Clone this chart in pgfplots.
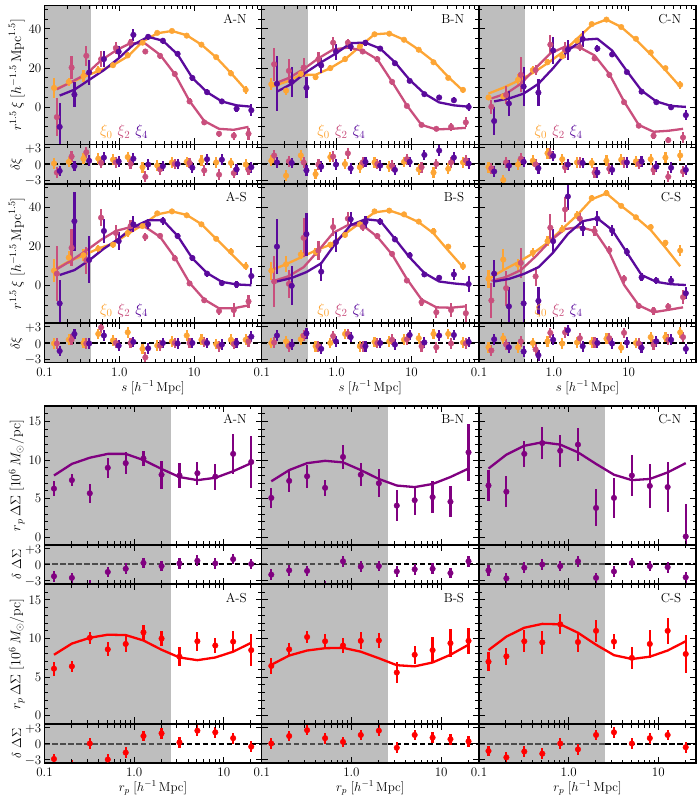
\documentclass[border=0pt]{standalone}
\usepackage{fix-cm}
\usepackage{pgfplots}
\usepackage{pgfplotstable}
\pgfplotsset{compat=1.18}
\definecolor{cO}{HTML}{FDA535}
\definecolor{cM}{HTML}{C94F7D}
\definecolor{cP}{HTML}{5A0A9C}
\definecolor{cL}{HTML}{800080}
\definecolor{cR}{HTML}{FF0000}
\definecolor{cB}{HTML}{BEBEBE}
% s y0 e0 l0 r0 y2 e2 l2 r2 y4 e4 l4 r4
\pgfplotstableread{
s y0 e0 l0 r0 y2 e2 l2 r2 y4 e4 l4 r4
0.134 9.9 5 9 0.1 -5 9.5 9.2 -1.6 -10 12 6 -1.3
0.211 13 2 12.2 0.4 20.3 6 13 1.4 6.5 6.5 9 -0.4
0.332 16 3 15.5 1 26.3 5 17 2.2 17.8 6.5 14 0.6
0.523 19 2 18.5 1 24.6 4 24 0.2 24.6 4 19 1.2
0.823 21.5 1.5 21.5 0.8 30.3 3 29 0.3 28.4 3 25 0.5
1.295 26.5 1.5 26 1.3 33 2 32.8 0 37 3 32 1
2.04 33 1 33.5 -0.6 28.5 1.5 32.5 -2.4 36 1.5 36 -0.1
3.21 38 1 37.8 -0.3 26.3 1.5 26.8 -1 34 1.5 34 -0.4
5.05 39 1 39 0.3 17 1.5 17 0 27.3 1.5 27 0
7.95 36.6 1 36.8 0.4 3 1.5 3.2 0.2 15 1.5 15 -0.7
12.5 32 1 32 0.6 -7.7 1 -7 -1.2 7.7 1.5 7.7 0.9
19.7 25.6 1 25.5 0.3 -13.5 1.5 -11 -2 3 1 3 0.8
31 17.3 1.5 17.5 0.2 -14.5 2 -11.5 -1.7 -0.7 1.5 1 -1
48.8 8.9 2 9 -0.1 -13.5 3 -10 -1.1 -1.5 3 0.3 -0.6
}\tabAN
\pgfplotstableread{
s y0 e0 l0 r0 y2 e2 l2 r2 y4 e4 l4 r4
0.134 11.8 3 10.5 0.6 22 8.5 12 1.6 12 14 8 0.3
0.211 8.5 2 13 -2.2 18.6 6 15 0.5 13 7.5 12 0.2
0.332 17 2 16.5 1.6 20.3 5 19.5 0.3 10 5.5 18 -1.2
0.523 15.4 1.5 16.6 -1.9 24.6 3.5 25 -0.1 21.4 4 23 -0.5
0.823 20 1.5 20 1.3 33 3 29.5 1.4 28.4 4 27.5 -0.1
1.295 24.6 1.5 24.5 0 33 2 30.5 2 31 2 32.8 -0.8
2.04 31 1 31 -0.6 28.5 1.5 29 0.3 33 1.5 33 0.4
3.21 37.3 1 37.3 0.3 24.6 1.5 24.5 0 30 1 30 -0.3
5.05 37.6 1 37.8 -0.5 13 1.5 13 -0.3 22.5 1 23 -1.1
7.95 34.5 1 34.5 0.4 0.7 1 1 0.9 13.5 1 14 0.4
12.5 29.4 1 29.4 -1 -9 1 -9 -0.6 6.7 1 7 1.7
19.7 23 1 23.5 -1.6 -11 1 -11.3 0 5 1 2.5 2.5
31 15 1 15.5 -0.9 -10 2 -11 0.3 3.6 1.5 1 1.2
48.8 8.9 1.5 8.5 0.3 -7.7 2.5 -10.5 0.7 0.2 2 0.3 0.1
}\tabBN
\pgfplotstableread{
s y0 e0 l0 r0 y2 e2 l2 r2 y4 e4 l4 r4
0.134 5 1.5 7 -0.6 0.3 3.5 4.5 -0.8 -7 7 3 -1.4
0.211 5.5 2 10 -3 6.3 4.5 7 0.3 1.9 6.5 4.5 -0.3
0.332 14 3 13.5 -0.1 16.6 9 12 1 10.6 10 7 0.4
0.523 19 2 17.5 0.6 19 2.5 20 -0.1 7.5 7 12 -0.8
0.823 23 1.5 22.5 2 32 5 27.5 1.9 29 7 20 1.5
1.295 26 1.5 28 0.9 29.4 4 31 -0.6 29.4 5 29 -0.1
2.04 34 1.2 35 0.3 30.8 2 30.5 0.3 34.9 4 34.5 0.2
3.21 42.5 1 42 0.2 25 1.5 26.5 -1.6 30 2 35 -1.6
5.05 44.8 1 44.8 0.6 16.6 1.5 17 -0.9 27 1.5 29 -1.1
7.95 41 1 41 0.8 2.6 1.5 3 0.3 18 1 18.5 0.3
12.5 35 1 34.5 0.5 -9.4 1 -9 0 8 1 8.5 0.5
19.7 28 1 27 0.9 -14.5 1.5 -12.5 -1.1 2.6 1 3 -0.5
31 20 1.2 19 1.2 -16.8 1.5 -12 -2.4 0 1.5 0.7 -0.7
48.8 11.5 2 10.5 1.6 -15.4 3 -11 -1.4 -4 2.5 0.2 -1.1
}\tabCN
\pgfplotstableread{
s y0 e0 l0 r0 y2 e2 l2 r2 y4 e4 l4 r4
0.134 7.7 6 8 -0.1 6.2 14 8.5 -0.1 -9 12 5.5 -1.5
0.211 14.4 3.5 12.5 0.6 19.4 9.5 13 0.6 33 15 8 1.7
0.332 15.6 3 15.5 0 13 7 18 -0.1 13.2 12 13 -0.1
0.523 19 2 19 1.7 34.8 4.5 23.5 2.9 28 6 19 1.4
0.823 21 1.5 21.5 0.5 27 4 28 0 22.8 4.5 24 -0.5
1.295 27 2 26.5 2 30.5 3 30 0 31.4 4 30 0.2
2.04 30.5 1 31 -1.1 25 2 30 -2.7 31.4 2.5 33.5 -1
3.21 37 1 36.5 -0.5 25.5 1.5 25 -0.5 33.3 2 33.5 0
5.05 38 1 38 0.3 14 1.5 14.5 0 25.4 1.5 25.5 -0.1
7.95 36 1 36.2 1.4 1.2 1.5 1.5 0 14.2 1.5 14 0
12.5 31.4 1 31.5 0.6 -7.4 1.2 -7 0.2 6.2 1.5 6.5 0
19.7 24 1.2 24 -0.2 -12.9 2 -11.5 -0.6 1.4 1.5 2 -0.3
31 17.5 2 16.5 0.6 -12.4 3.5 -11.5 -0.2 0.7 2 0.7 0
48.8 10 2 9 0.6 -8 3.5 -10 0.3 5 4 0.3 1.2
}\tabAS
\pgfplotstableread{
s y0 e0 l0 r0 y2 e2 l2 r2 y4 e4 l4 r4
0.134 7.7 4.5 8 0 2.2 13 2.5 0.1 20 14 2.2 1.4
0.211 11 4 11 0.3 1 7 5 -0.6 0 10 4 -0.3
0.332 16 2.5 14.5 0.7 24.5 10 9.5 1.4 26.4 11 7 1.8
0.523 17.3 2 18 -0.6 18 5 18 -0.6 7.2 5 11.5 -1.1
0.823 21 1.5 21 0 30 4.5 27 1.3 22.3 5 22 0.3
1.295 26 1.5 26.5 1.7 34.3 3.5 31 1.7 34 3.5 31 1.1
2.04 31.4 1 32 -0.6 30 2 31 -0.6 32.6 3 34 -0.6
3.21 38 1 37.5 0.2 25.4 1.5 25 0 32.8 2 33.2 0
5.05 38.4 1 38.5 0.3 16.3 1.5 16 0.6 23.7 1.5 24 -0.3
7.95 36.5 1 36 0.6 2.7 1.5 3.5 0.7 15.6 1.5 14.5 1.5
12.5 32.8 1 32.5 0.9 -8.4 2 -7 -0.6 5.8 1.5 6.5 0.1
19.7 27.8 1.5 26.8 1.7 -13.5 3 -11 -0.8 4.1 1.5 2.2 1.4
31 20 1.5 18 1.7 -12.4 3.5 -11.2 -0.1 5.8 3 1.2 1.5
48.8 10 2 9.5 0.1 -14 4.5 -10.5 -0.1 0.9 4 0.5 0.2
}\tabBS
\pgfplotstableread{
s y0 e0 l0 r0 y2 e2 l2 r2 y4 e4 l4 r4
0.134 3.6 4.7 3.5 -0.8 -7.5 9 2.5 -1.4 6.2 7 2.2 0.7
0.211 13.4 5.5 8 0.9 -1.2 9 4.5 -0.3 -10.5 10 3.5 -0.8
0.332 10.8 3 12 -0.8 11.7 7.5 8 0.3 -9 11 6 -1.6
0.523 17 2.5 16.5 0 4.8 5 15 -1.2 -7.7 7 9.5 -2.3
0.823 22.8 2.5 22 0.3 29.7 7 23 1.9 22.8 6 17 0.6
1.295 28.8 2 29 -0.1 39 6.5 29 2 45.6 7 26.5 2.4
2.04 36 2 36 0.1 34.3 3 30 0.9 29.3 4 33 -0.6
3.21 44.8 1.5 44.2 0.1 28 2.5 28 0.1 34.3 4 34.5 0
5.05 47.3 1.5 47.2 0.8 18.2 2 17 0.9 28.3 3 28.5 -0.1
7.95 40.8 1 40.8 -0.9 3.6 2 0.5 1.9 17.3 2 17 0.1
12.5 35 1 35 0 -10.3 1.5 -10 -0.1 4.3 2 5.5 -0.9
19.7 30 1.5 28.5 1.1 -12.7 2 -13.5 -0.3 2.7 2 2 0.3
31 22 1.5 19.5 1.1 -10.6 2 -12.3 0.6 2.7 2.5 0.8 0.6
48.8 18 3 10 2 -5.8 3.5 -11 1.1 -3.8 3 0.4 -1.1
}\tabCS
% r y e l d
\pgfplotstableread{
r y e l d
0.1276 6.3 0.95 8 -2.2
0.202 7.4 0.8 9.5 -2.5
0.32 5.7 1.2 10.3 -3.9
0.508 9 1.3 10.8 -1.4
0.805 9.6 1.4 10.8 -0.8
1.27 10.2 1 10 0.3
2.02 8.1 1.8 8.85 -0.3
3.2 8 1.6 7.8 0.2
5.07 8.3 1.5 7.4 0.7
8.03 7.85 1.7 7.7 0.2
12.7 10.8 2.6 8.55 1
20.2 9.75 3.4 9.6 0.1
}\lenAN
\pgfplotstableread{
r y e l d
0.1276 5.1 1.3 7.25 -1.9
0.202 7.3 1.4 8.7 -1.1
0.32 7.9 1.5 9.6 -1.2
0.508 6.4 1 9.9 -4
0.805 10.4 1.5 9.7 0.6
1.27 8.1 1.5 8.7 -0.4
2.02 7 1.8 7.55 -0.3
3.2 4.1 2 6.7 -1.3
5.07 4.8 1.9 6.5 -0.9
8.03 5.2 2.1 6.9 -0.8
12.7 4.6 2 7.8 -1.6
20.2 11 3.7 8.9 0.6
}\lenBN
\pgfplotstableread{
r y e l d
0.1276 6.7 2 8.9 -1.1
0.202 5.9 2 10.7 -2.6
0.32 10.8 1.7 11.85 -0.6
0.508 12.2 2.1 12.3 0
0.805 11.2 2.1 12 -0.3
1.27 12 2.1 11 0.6
2.02 3.8 2.4 9.5 -2.5
3.2 5.1 2.6 8.1 -1.3
5.07 8 2.7 7.4 0.3
8.03 6.65 2.9 7.55 -0.3
12.7 6.5 3.2 8.4 -0.5
20.2 0.1 4.2 9.6 -2.4
}\lenCN
\pgfplotstableread{
r y e l d
0.1276 6.1 0.9 7.9 -2.9
0.202 6.4 0.7 9.35 -4
0.32 10.1 0.8 10.1 0
0.508 8.6 0.9 10.5 -3
0.805 9.3 1 10.45 -1.7
1.27 10.8 1 9.75 1.4
2.02 10 1 8.55 1.9
3.2 7.65 1.2 7.55 0.2
5.07 9.65 1.2 7.2 2.4
8.03 9.1 1 7.55 2.1
12.7 9.6 1.4 8.3 1
20.2 8.5 2.1 9.45 -0.6
}\lenAS
\pgfplotstableread{
r y e l d
0.1276 6.45 1 6.6 0
0.202 8.6 0.8 7.8 1.4
0.32 10.2 0.8 8.45 2.5
0.508 9.65 1 8.75 1
0.805 9.1 1 8.8 0.3
1.27 9.7 1.1 8.3 1.6
2.02 9.75 1 7.45 2.4
3.2 5.6 1.3 6.55 -0.8
5.07 7.9 1.2 6.4 1.6
8.03 8.5 1.7 6.9 1.1
12.7 9.4 1.8 7.9 0.8
20.2 9.7 1.7 9.2 0.4
}\lenBS
\pgfplotstableread{
r y e l d
0.1276 7 1.2 8.5 -1.4
0.202 7.7 1.1 10.25 -2.6
0.32 9.65 1.4 11.4 -1.5
0.508 9.5 1.5 11.9 -1.9
0.805 11.85 1.3 11.85 0
1.27 9.55 1.3 10.75 -1.1
2.02 11 1.4 9.2 1.6
3.2 9.6 1 7.85 2.1
5.07 7.5 1.4 7.35 0
8.03 9.3 1.8 7.65 1
12.7 11 1.7 8.45 1.6
20.2 8 2.5 9.65 -0.7
}\lenCS
\pgfplotsset{
  pbase/.style={scale only axis,width=217pt,
    axis line style={line width=1.3pt},
    tick style={line width=1pt,black},
    axis on top,
    tick align=inside,xtick pos=both,ytick pos=both,
    major tick length=6pt,minor tick length=3.5pt,
    log ticks with fixed point,
    every axis y label/.style={at={(axis description cs:-0.128,0.5)},rotate=90,anchor=center},
    every axis x label/.style={at={(axis description cs:0.5,-0.64)},anchor=center},
    yticklabel style={inner sep=0pt,xshift=-3pt},
    xticklabel style={inner sep=1pt,yshift=-4pt},
    xtick={0.1,1,10},xticklabels={},yticklabels={},
  },
  pxim/.style={pbase,xmin=0.1,xmax=79.4,
    minor xtick={0.2,0.3,0.4,0.5,0.6,0.7,0.8,0.9,2,3,4,5,6,7,8,9,20,30,40,50,60,70}},
  plem/.style={pbase,xmin=0.1,xmax=26.3,
    minor xtick={0.2,0.3,0.4,0.5,0.6,0.7,0.8,0.9,2,3,4,5,6,7,8,9,20}},
  pximain/.style={pxim,height=139pt,ymin=-19,ymax=52,ytick={0,20,40},
    minor ytick={-15,-10,-5,5,10,15,25,30,35,45,50}},
  plemain/.style={plem,height=139pt,ymin=-1,ymax=17,ytick={0,5,10,15},
    minor ytick={1,2,3,4,6,7,8,9,11,12,13,14,16}},
  presid/.style={height=39pt,ymin=-3.65,ymax=3.65,ytick={-3,0,3}},
  pylabs/.style={yticklabels={$-3$,$0$,$+3$},yticklabel style={yshift=-1.2pt}},
  mainlabsXi/.style={yticklabels={$0$,$20$,$40$},
    ylabel={\fontsize{14}{16}\selectfont $r^{1.5}\,\xi\;[h^{-1.5}\,\mathrm{Mpc}^{1.5}]$}},
  mainlabsLe/.style={yticklabels={$0$,$5$,$10$,$15$},
    ylabel={\fontsize{14}{16}\selectfont $r_p\,\Delta\Sigma\;[10^6\,M_\odot/\mathrm{pc}]$}},
  xlabsXi/.style={xticklabels={0.1,1.0,10},xlabel={$s\;[h^{-1}\,\mathrm{Mpc}]$}},
  xlabsLe/.style={xticklabels={0.1,1.0,10},xlabel={$r_p\;[h^{-1}\,\mathrm{Mpc}]$}},
}
\newcommand{\xiser}[4]{%
  \addplot[color=#1,line width=2.3pt,line join=round] table[x expr=\thisrow{s}*#2,y=l#3]{#4};
  \addplot[color=#1,only marks,mark=*,mark size=2.8pt,
    error bars/.cd,y dir=both,y explicit,error mark=none,error bar style={line width=2.2pt}]
    table[x expr=\thisrow{s}*#2,y=y#3,y error=e#3]{#4};
}
\newcommand{\xires}[4]{%
  \addplot[color=#1,only marks,mark=*,mark size=2.8pt,
    error bars/.cd,y dir=both,y fixed=1,error mark=none,error bar style={line width=2.2pt}]
    table[x expr=\thisrow{s}*#2,y=r#3]{#4};
}
% x, ymain, yres, table, label, main opts, res opts
\newcommand{\xipanel}[7]{%
\begin{semilogxaxis}[pximain,at={(#1pt,#2pt)},anchor=south west,#6]
  \addplot[fill=cB,draw=none] coordinates {(0.1,-19)(0.415,-19)(0.415,52)(0.1,52)} -- cycle;
  \xiser{cO}{1}{0}{#4}
  \xiser{cM}{1.091}{2}{#4}
  \xiser{cP}{1.19}{4}{#4}
  \node[anchor=east] at (rel axis cs:0.953,0.904) {#5};
  \node[anchor=west,font=\fontsize{15.5}{17}\selectfont] at (rel axis cs:0.235,0.09)
    {$\color{cO}\xi_0\,\,\color{cM}\xi_2\,\,\color{cP}\xi_4$};
\end{semilogxaxis}
\begin{semilogxaxis}[pxim,presid,at={(#1pt,#3pt)},anchor=south west,#7]
  \addplot[fill=cB,draw=none] coordinates {(0.1,-3.65)(0.415,-3.65)(0.415,3.65)(0.1,3.65)} -- cycle;
  \addplot[black,line width=2pt,dash pattern=on 5.5pt off 2.5pt] coordinates {(0.1,0)(79.4,0)};
  \xires{cO}{1}{0}{#4}
  \xires{cM}{1.091}{2}{#4}
  \xires{cP}{1.19}{4}{#4}
\end{semilogxaxis}}
% x, ymain, yres, table, label, color, main opts, res opts
\newcommand{\lepanel}[8]{%
\begin{semilogxaxis}[plemain,at={(#1pt,#2pt)},anchor=south west,#7]
  \addplot[fill=cB,draw=none] coordinates {(0.1,-1)(2.55,-1)(2.55,17)(0.1,17)} -- cycle;
  \addplot[color=#6,line width=2.3pt,line join=round] table[x=r,y=l]{#4};
  \addplot[color=#6,only marks,mark=*,mark size=2.8pt,
    error bars/.cd,y dir=both,y explicit,error mark=none,error bar style={line width=2.2pt}]
    table[x=r,y=y,y error=e]{#4};
  \node[anchor=east] at (rel axis cs:0.953,0.904) {#5};
\end{semilogxaxis}
\begin{semilogxaxis}[plem,presid,at={(#1pt,#3pt)},anchor=south west,#8]
  \addplot[fill=cB,draw=none] coordinates {(0.1,-3.65)(2.55,-3.65)(2.55,3.65)(0.1,3.65)} -- cycle;
  \addplot[color=black!70,line width=2pt,dash pattern=on 5.5pt off 2.5pt] coordinates {(0.1,0)(2.55,0)};
  \addplot[black,line width=2pt,dash pattern=on 5.5pt off 2.5pt] coordinates {(2.55,0)(26.3,0)};
  \addplot[color=#6,only marks,mark=*,mark size=2.8pt,
    error bars/.cd,y dir=both,y fixed=1,error mark=none,error bar style={line width=2.2pt}]
    table[x=r,y=d]{#4};
\end{semilogxaxis}}
\begin{document}
\fontsize{13}{15}\selectfont
\begin{tikzpicture}[x=1pt,y=1pt]
\path[use as bounding box] (0,0) rectangle (697,800);
\xipanel{44.5}{655.5}{616.5}{\tabAN}{A-N}{mainlabsXi}{pylabs,ylabel={$\delta\xi$}}
\xipanel{261.8}{655.5}{616.5}{\tabBN}{B-N}{}{}
\xipanel{479}{655.5}{616.5}{\tabCN}{C-N}{}{}
\xipanel{44.5}{477}{437.5}{\tabAS}{A-S}{mainlabsXi}{pylabs,ylabel={$\delta\xi$},xlabsXi}
\xipanel{261.8}{477}{437.5}{\tabBS}{B-S}{}{xlabsXi}
\xipanel{479}{477}{437.5}{\tabCS}{C-S}{}{xlabsXi}
\lepanel{44.5}{255}{216}{\lenAN}{A-N}{cL}{mainlabsLe}{pylabs,ylabel={$\delta\;\Delta\Sigma$}}
\lepanel{261.8}{255}{216}{\lenBN}{B-N}{cL}{}{}
\lepanel{479}{255}{216}{\lenCN}{C-N}{cL}{}{}
\lepanel{44.5}{76.5}{37}{\lenAS}{A-S}{cR}{mainlabsLe}{pylabs,ylabel={$\delta\;\Delta\Sigma$},xlabsLe}
\lepanel{261.8}{76.5}{37}{\lenBS}{B-S}{cR}{}{xlabsLe}
\lepanel{479}{76.5}{37}{\lenCS}{C-S}{cR}{}{xlabsLe}
\end{tikzpicture}
\end{document}
